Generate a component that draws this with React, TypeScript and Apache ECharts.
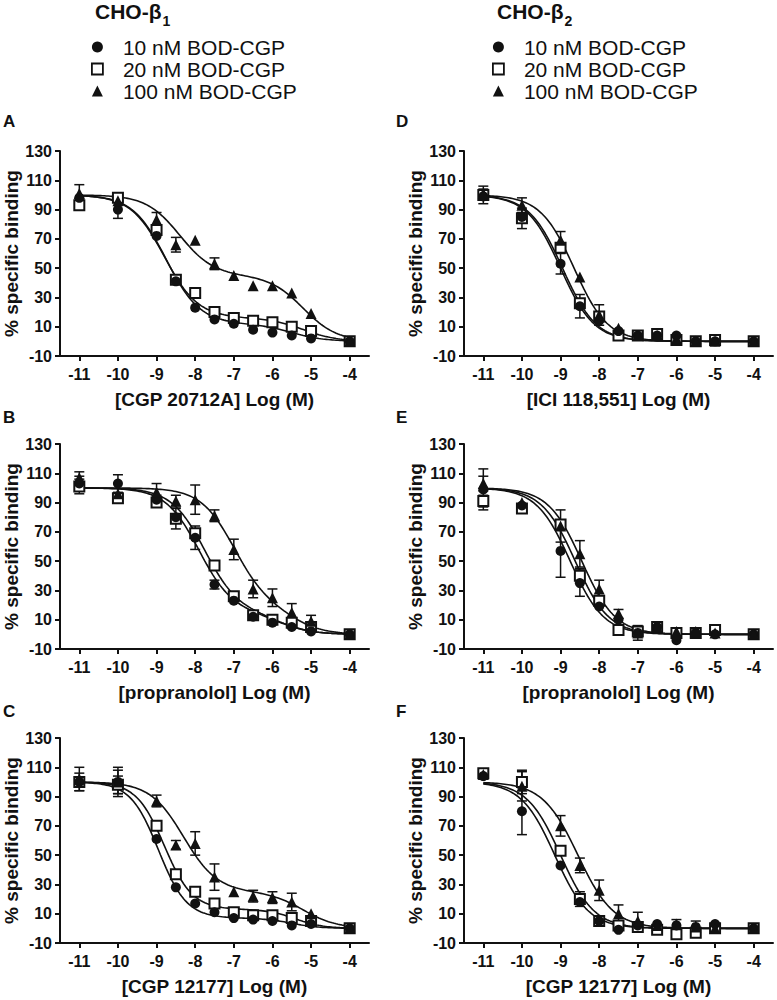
import React, { useEffect, useRef } from "react";
import * as echarts from "echarts";

// ---------- data ----------
const logConc = [-11, -10, -9, -8.5, -8, -7.5, -7, -6.5, -6, -5.5, -5, -4];
const xTicks = [-11, -10, -9, -8, -7, -6, -5, -4];
const yTicks = [-10, 10, 30, 50, 70, 90, 110, 130];
const seriesNames = ["10 nM BOD-CGP", "20 nM BOD-CGP", "100 nM BOD-CGP"];
const panelLetters = ["A", "B", "C", "D", "E", "F"];
const xTitles = [
  "[CGP 20712A] Log (M)",
  "[propranolol] Log (M)",
  "[CGP 12177] Log (M)",
  "[ICI 118,551] Log (M)",
  "[propranolol] Log (M)",
  "[CGP 12177] Log (M)",
];
const yTitle = "% specific binding";
const headers = [
  ["CHO-β", "1"],
  ["CHO-β", "2"],
];

// Panel A – CHO-β1, CGP 20712A
const aCircle = [98, 90, 72, 41, 23, 15, 12, 8, 6, 4, 2, 0];
const aCircleErr = [0, 6, 0, 0, 0, 0, 0, 0, 0, 0, 0, 0];
const aSquare = [93, 98, 76, 42, 33, 20, 16, 14, 13, 10, 7, 0];
const aSquareErr = [2, 2, 0, 0, 0, 0, 0, 0, 0, 0, 0, 0];
const aTriangle = [101, 96, 83, 66, 69, 53, 45, 38, 38, 33, 19, 0];
const aTriangleErr = [6, 0, 5, 5, 0, 4, 0, 0, 0, 0, 0, 0];

// Panel B – CHO-β1, propranolol
const bCircle = [103, 103, 92, 80, 66, 34, 23, 12, 8, 5, 2, 0];
const bCircleErr = [5, 6, 3, 0, 8, 3, 0, 0, 0, 0, 0, 0];
const bSquare = [101, 93, 90, 79, 69, 47, 26, 13, 10, 8, 5, 0];
const bSquareErr = [5, 2, 2, 7, 0, 0, 0, 0, 0, 0, 0, 0];
const bTriangle = [107, 96, 97, 91, 92, 81, 58, 31, 25, 15, 9, 0];
const bTriangleErr = [4, 0, 6, 4, 10, 4, 7, 6, 6, 6, 4, 0];

// Panel C – CHO-β1, CGP 12177
const cCircle = [100, 100, 61, 28, 17, 11, 7, 6, 5, 2, 3, 0];
const cCircleErr = [0, 8, 0, 0, 0, 0, 0, 0, 0, 0, 0, 0];
const cSquare = [100, 98, 70, 37, 25, 17, 11, 9, 9, 7, 5, 0];
const cSquareErr = [6, 6, 0, 0, 0, 0, 0, 0, 0, 0, 0, 0];
const cTriangle = [102, 100, 87, 57, 58, 35, 25, 22, 21, 18, 10, 0];
const cTriangleErr = [8, 10, 4, 3, 8, 9, 0, 4, 4, 6, 0, 0];

// Panel D – CHO-β2, ICI 118,551
const dCircle = [99, 85, 53, 24, 14, 7, 4, 4, 4, 0, 0, 0];
const dCircleErr = [0, 0, 7, 8, 0, 0, 0, 0, 0, 0, 0, 0];
const dSquare = [100, 84, 64, 26, 17, 4, 4, 5, 1, 0, 1, 0];
const dSquareErr = [6, 7, 0, 0, 0, 0, 0, 0, 0, 0, 0, 0];
const dTriangle = [101, 93, 69, 44, 18, 9, 4, 4, 2, 0, 0, 0];
const dTriangleErr = [3, 5, 6, 0, 7, 0, 0, 0, 0, 0, 0, 0];

// Panel E – CHO-β2, propranolol
const eCircle = [99, 88, 57, 35, 19, 10, 1, 5, -4, 1, 0, 0];
const eCircleErr = [14, 0, 18, 9, 0, 0, 0, 0, 0, 0, 0, 0];
const eSquare = [91, 86, 75, 40, 23, 3, 2, 5, 1, 1, 3, 0];
const eSquareErr = [4, 3, 0, 5, 0, 0, 0, 0, 0, 0, 0, 0];
const eTriangle = [103, 90, 74, 55, 31, 14, 1, 5, 2, 2, 1, 0];
const eTriangleErr = [5, 0, 11, 9, 6, 3, 5, 0, 0, 0, 0, 0];

// Panel F – CHO-β2, CGP 12177
const fCircle = [104, 80, 43, 18, 5, -1, 2, 3, 2, 1, 3, 0];
const fCircleErr = [0, 16, 0, 0, 0, 0, 0, 0, 0, 0, 0, 0];
const fSquare = [106, 100, 53, 20, 5, 2, 1, -1, -4, -3, 0, 0];
const fSquareErr = [0, 8, 0, 5, 0, 0, 0, 0, 0, 0, 0, 0];
const fTriangle = [105, 97, 70, 43, 26, 10, 5, 2, 3, 1, 0, 0];
const fTriangleErr = [0, 10, 7, 5, 7, 6, 6, 0, 3, 4, 0, 0];

// Fitted curve parameters:
// [top, bottom, fraction of site 1, logIC50 site 1, logIC50 site 2, Hill slope]
const aFits = [[100, 0, 0.88, -8.75, -5.5, 1], [100, 0, 0.84, -8.8, -5.2, 1], [100, 0, 0.55, -8.4, -5.2, 1]];
const bFits = [[100, 0, 0.85, -7.9, -5.8, 1], [100, 0, 0.85, -7.75, -5.8, 1], [100, 0, 0.8, -7.0, -5.5, 1]];
const cFits = [[100, 0, 0.93, -8.95, -5.5, 1.2], [100, 0, 0.87, -8.8, -5.4, 1.2], [100, 0, 0.75, -8.3, -5.2, 1]];
const dFits = [[100, 0, 1, -9.0, -9.0, 1], [100, 0, 1, -8.95, -8.95, 1], [100, 0, 1, -8.65, -8.65, 1]];
const eFits = [[100, 0, 1, -8.75, -8.75, 1], [100, 0, 1, -8.62, -8.62, 1], [100, 0, 1, -8.45, -8.45, 1]];
const fFits = [[100, 0, 1, -9.15, -9.15, 1], [100, 0, 1, -9.0, -9.0, 1], [100, 0, 1, -8.55, -8.55, 0.95]];

const panels = [
  { pts: [aCircle, aSquare, aTriangle], errs: [aCircleErr, aSquareErr, aTriangleErr], fits: aFits },
  { pts: [bCircle, bSquare, bTriangle], errs: [bCircleErr, bSquareErr, bTriangleErr], fits: bFits },
  { pts: [cCircle, cSquare, cTriangle], errs: [cCircleErr, cSquareErr, cTriangleErr], fits: cFits },
  { pts: [dCircle, dSquare, dTriangle], errs: [dCircleErr, dSquareErr, dTriangleErr], fits: dFits },
  { pts: [eCircle, eSquare, eTriangle], errs: [eCircleErr, eSquareErr, eTriangleErr], fits: eFits },
  { pts: [fCircle, fSquare, fTriangle], errs: [fCircleErr, fSquareErr, fTriangleErr], fits: fFits },
];

// ---------- layout / style ----------
const FONT = "'Liberation Sans', Arial, sans-serif";
const INK = "#111";
const gridLefts = [60, 60, 60, 464, 464, 464];
const gridTops = [151, 444, 738, 151, 444, 738];
const GRID_W = 309;
const GRID_H = 205;

function fitCurve(p: number[]) {
  const [top, bottom, frac, ic1, ic2, hill] = p;
  const out: number[][] = [];
  const x0 = logConc[0];
  const x1 = logConc[logConc.length - 1];
  const n = 140;
  for (let i = 0; i <= n; i++) {
    const x = x0 + ((x1 - x0) * i) / n;
    const s1 = frac / (1 + Math.pow(10, (x - ic1) * hill));
    const s2 = (1 - frac) / (1 + Math.pow(10, (x - ic2) * hill));
    out.push([x, bottom + (top - bottom) * (s1 + s2)]);
  }
  return out;
}

const markerStyles = [
  { symbol: "circle", symbolSize: 10, itemStyle: { color: INK, opacity: 1 } },
  { symbol: "rect", symbolSize: 10, itemStyle: { color: "#fff", borderColor: INK, borderWidth: 2, opacity: 1 } },
  { symbol: "triangle", symbolSize: 11, itemStyle: { color: INK, opacity: 1 } },
];
// draw order: squares, circles, triangles
const drawOrder = [1, 0, 2];

function buildOption() {
  const grid: any[] = [];
  const xAxis: any[] = [];
  const yAxis: any[] = [];
  const series: any[] = [];

  panels.forEach((panel, pi) => {
    grid.push({ left: gridLefts[pi], top: gridTops[pi], width: GRID_W, height: GRID_H, containLabel: false });
    xAxis.push({
      type: "value",
      gridIndex: pi,
      min: -11.5,
      max: -3.5,
      name: xTitles[pi],
      nameLocation: "middle",
      nameGap: 34,
      nameTextStyle: { fontFamily: FONT, fontSize: 19, fontWeight: "bold", color: INK },
      axisLine: { show: true, onZero: false, lineStyle: { color: INK, width: 2 } },
      axisTick: { show: true, length: 5, lineStyle: { color: INK, width: 2 }, customValues: xTicks },
      axisLabel: {
        customValues: xTicks,
        fontFamily: FONT,
        fontSize: 16,
        fontWeight: "bold",
        color: INK,
        margin: 10,
      },
      splitLine: { show: false },
    });
    yAxis.push({
      type: "value",
      gridIndex: pi,
      min: -10,
      max: 130,
      name: yTitle,
      nameLocation: "middle",
      nameGap: 38,
      nameTextStyle: { fontFamily: FONT, fontSize: 19, fontWeight: "bold", color: INK },
      axisLine: { show: true, onZero: false, lineStyle: { color: INK, width: 2 } },
      axisTick: { show: true, length: 5, lineStyle: { color: INK, width: 2 }, customValues: yTicks },
      axisLabel: {
        customValues: yTicks,
        fontFamily: FONT,
        fontSize: 16,
        fontWeight: "bold",
        color: INK,
        margin: 8,
      },
      splitLine: { show: false },
    });

    // fitted curves
    panel.fits.forEach((p, si) => {
      series.push({
        type: "line",
        name: "fit " + seriesNames[si],
        xAxisIndex: pi,
        yAxisIndex: pi,
        data: fitCurve(p),
        showSymbol: false,
        symbol: "none",
        smooth: false,
        lineStyle: { color: INK, width: 1.6 },
        z: 1,
        silent: true,
      });
    });

    // error bars
    const errData: number[][] = [];
    drawOrder.forEach((si) => {
      panel.pts[si].forEach((v, k) => {
        const e = panel.errs[si][k];
        if (e > 0) errData.push([logConc[k], v, e]);
      });
    });
    series.push({
      type: "custom",
      name: "error bars",
      xAxisIndex: pi,
      yAxisIndex: pi,
      data: errData,
      encode: { x: 0, y: 1 },
      z: 2,
      silent: true,
      renderItem: (params: any, api: any) => {
        const x = api.value(0);
        const y = api.value(1);
        const e = api.value(2);
        const hi = api.coord([x, y + e]);
        const lo = api.coord([x, y - e]);
        const hw = 5;
        const st = { stroke: INK, lineWidth: 1.5 };
        return {
          type: "group",
          children: [
            { type: "line", shape: { x1: hi[0], y1: hi[1], x2: lo[0], y2: lo[1] }, style: st },
            { type: "line", shape: { x1: hi[0] - hw, y1: hi[1], x2: hi[0] + hw, y2: hi[1] }, style: st },
            { type: "line", shape: { x1: lo[0] - hw, y1: lo[1], x2: lo[0] + hw, y2: lo[1] }, style: st },
          ],
        };
      },
    });

    // data points
    drawOrder.forEach((si, oi) => {
      series.push({
        type: "scatter",
        name: seriesNames[si],
        xAxisIndex: pi,
        yAxisIndex: pi,
        data: panel.pts[si].map((v, k) => [logConc[k], v]),
        ...markerStyles[si],
        z: 3 + oi,
      });
    });
  });

  const legendData = [
    { name: seriesNames[0], icon: "circle", itemStyle: { color: INK, opacity: 1 } },
    { name: seriesNames[1], icon: "rect", itemStyle: { color: "#fff", borderColor: INK, borderWidth: 1.8, opacity: 1 } },
    { name: seriesNames[2], icon: "triangle", itemStyle: { color: INK, opacity: 1 } },
  ];
  const legendCommon = {
    orient: "vertical",
    top: 36,
    padding: 0,
    itemGap: 0,
    itemWidth: 11,
    itemHeight: 11,
    selectedMode: false,
    data: legendData,
    textStyle: {
      fontFamily: FONT,
      fontSize: 21,
      color: INK,
      lineHeight: 22,
      padding: [0, 0, 0, 15],
    },
  };

  const graphic: any[] = [];
  headers.forEach((h, i) => {
    graphic.push({
      type: "text",
      left: i === 0 ? 95 : 497,
      top: 1,
      style: {
        text: `{m|${h[0]}}{s|${h[1]}}`,
        rich: {
          m: { fontFamily: FONT, fontSize: 21, fontWeight: "bold", fill: INK, verticalAlign: "bottom", padding: [0, 0, 6, 0] },
          s: { fontFamily: FONT, fontSize: 14, fontWeight: "bold", fill: INK, verticalAlign: "bottom", padding: [0, 0, 0, 1] },
        },
      },
    });
  });
  const letterY = [121.5, 417, 711];
  panelLetters.forEach((L, i) => {
    graphic.push({
      type: "text",
      x: i < 3 ? 3 : 396,
      y: letterY[i % 3],
      style: {
        text: L,
        fontFamily: FONT,
        fontSize: 17,
        fontWeight: "bold",
        fill: INK,
        verticalAlign: "middle",
      },
    });
  });

  return {
    animation: false,
    backgroundColor: "#fff",
    grid,
    xAxis,
    yAxis,
    legend: [
      { ...legendCommon, left: 91 },
      { ...legendCommon, left: 492 },
    ],
    graphic,
    series,
  };
}

export default function App() {
  const ref = useRef<HTMLDivElement>(null);
  useEffect(() => {
    document.body.style.margin = "0";
    if (!ref.current) return;
    const chart = echarts.init(ref.current, undefined, { renderer: "svg" });
    chart.setOption(buildOption() as any);
    return () => chart.dispose();
  }, []);
  return <div ref={ref} style={{ width: 777, height: 1000 }} />;
}
